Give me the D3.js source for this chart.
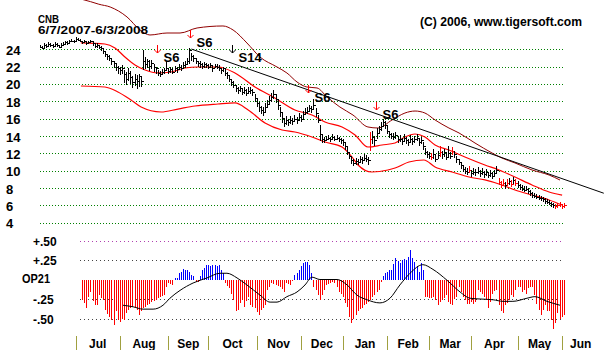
<!DOCTYPE html>
<html><head><meta charset="utf-8">
<script src="https://cdn.jsdelivr.net/npm/d3@7"></script>
<style>body{margin:0;background:#fff}svg{display:block}</style>
</head><body><svg id="c" width="604" height="350"></svg>
<script>
const closes=[24.3,24.2,24.5,24.4,24.6,24.5,24.4,24.6,24.5,24.3,24.5,24.6,24.8,24.7,24.9,25.0,24.9,25.2,25.1,25.0,
24.8,24.9,24.7,24.8,24.9,24.7,24.4,24.5,24.3,24.1,23.8,23.5,23.2,23.0,22.6,22.4,22.0,21.8,21.6,21.9,
21.2,20.6,21.3,20.8,20.2,20.6,20.4,20.9,20.3,22.6,22.3,22.7,22.1,22.4,22.0,21.8,21.3,21.1,21.4,21.6,
21.9,21.5,21.7,21.4,21.8,21.7,22.0,21.9,22.2,22.3,22.6,23.9,23.2,23.0,22.7,22.4,22.3,22.1,22.3,22.2,
22.0,22.2,21.8,22.1,22.0,21.9,21.6,21.8,21.3,21.0,20.6,20.2,19.9,19.5,19.3,19.5,19.1,19.3,19.0,19.2,
19.3,19.1,18.4,17.8,17.3,17.0,16.8,17.3,17.7,18.1,18.5,18.9,18.3,17.6,16.8,16.1,15.5,15.8,15.6,15.9,
15.7,16.0,15.8,16.2,16.0,16.5,16.8,16.9,17.2,17.1,17.6,16.6,15.9,14.2,13.6,13.5,13.7,13.8,13.6,13.9,
13.7,13.8,13.6,13.5,13.3,12.8,12.2,11.7,11.2,10.9,11.1,11.0,11.3,11.2,11.5,11.4,11.2,13.6,13.9,13.5,
14.4,14.8,15.2,15.6,15.3,14.6,14.2,14.0,13.9,14.1,13.6,13.7,13.4,13.8,13.5,13.3,13.7,13.4,13.6,13.8,
13.3,13.5,12.8,12.2,11.9,11.7,11.6,11.9,11.4,11.8,12.2,11.9,12.1,11.6,12.0,11.7,12.3,11.9,11.3,11.0,
10.6,10.2,10.0,9.9,10.1,9.7,9.9,9.8,10.0,9.7,9.9,9.6,9.8,9.5,9.7,9.4,9.7,10.1,8.7,8.4,
8.6,8.3,8.6,8.8,8.5,8.9,8.6,8.4,8.1,7.9,7.8,7.9,7.6,7.4,7.2,7.1,7.0,6.9,6.8,6.7,
6.5,6.4,6.3,6.1,6.0,5.9,6.0,6.1,5.9,6.0];
const highs=[24.5,24.4,24.7,24.6,24.8,24.7,24.6,24.8,24.7,24.5,24.7,24.8,25.0,24.9,25.1,25.2,25.1,25.4,25.3,25.2,
25.0,25.1,24.9,25.0,25.1,24.9,24.6,24.7,24.5,24.4,24.1,23.8,23.5,23.3,22.9,22.7,22.3,22.1,22.0,22.2,
21.6,21.4,21.9,21.5,20.9,21.2,21.0,21.2,20.8,23.9,23.1,22.9,22.8,22.8,22.3,22.0,21.6,21.5,21.7,21.9,
22.5,21.8,22.0,21.8,22.1,22.0,22.3,22.2,22.5,22.6,23.0,24.1,23.6,23.4,23.0,22.7,22.6,22.4,22.5,22.4,
22.3,22.4,22.1,22.3,22.3,22.2,21.9,22.0,21.7,21.4,21.0,20.6,20.3,19.9,19.7,19.8,19.5,19.6,19.4,19.6,
19.7,19.4,18.9,18.4,17.9,17.5,17.3,17.8,18.2,18.6,19.0,19.3,18.9,18.2,17.4,16.6,16.1,16.3,16.0,16.3,
16.1,16.4,16.2,16.6,16.4,16.9,17.2,17.3,17.6,17.5,18.3,17.2,16.4,15.3,14.1,13.9,14.0,14.1,13.9,14.2,
14.0,14.1,13.9,13.8,13.6,13.2,12.7,12.2,11.6,11.3,11.5,11.4,11.7,11.6,11.9,11.8,11.6,14.5,14.6,14.0,
14.9,15.2,15.6,16.0,15.7,15.1,14.6,14.4,14.3,14.5,14.0,14.1,13.8,14.2,13.9,13.7,14.1,13.8,14.0,14.2,
13.7,13.9,13.3,12.6,12.3,12.1,12.0,12.5,11.8,12.3,12.8,12.3,12.5,12.0,12.8,12.1,12.7,12.3,11.7,11.4,
11.0,10.6,10.4,10.3,10.5,10.1,10.3,10.2,10.4,10.1,10.3,10.0,10.2,9.9,10.1,9.8,10.1,10.5,9.1,8.8,
9.0,8.7,9.0,9.2,8.9,9.3,9.0,8.8,8.5,8.3,8.2,8.2,8.0,7.8,7.5,7.4,7.3,7.2,7.1,7.0,
6.8,6.7,6.6,6.4,6.3,6.2,6.3,6.4,6.2,6.3];
const lows=[24.1,24.0,24.2,24.2,24.4,24.3,24.2,24.4,24.3,24.1,24.3,24.4,24.6,24.5,24.7,24.8,24.7,25.0,24.9,24.8,
24.6,24.7,24.5,24.6,24.7,24.4,24.1,24.2,24.0,23.8,23.5,23.1,22.8,22.6,22.2,21.9,21.5,21.2,21.0,21.1,
20.1,19.9,20.4,20.0,19.5,19.8,19.4,19.7,19.6,21.6,21.7,21.9,21.5,21.7,21.4,21.2,20.9,20.8,21.0,21.2,
21.5,21.2,21.3,21.1,21.4,21.3,21.6,21.5,21.8,21.9,22.2,22.3,22.6,22.5,22.3,22.0,21.9,21.7,21.9,21.9,
21.7,21.9,21.4,21.8,21.7,21.5,21.2,21.4,20.9,20.6,20.2,19.8,19.5,19.1,18.9,19.1,18.7,18.9,18.6,18.8,
18.9,18.6,17.9,17.3,16.8,16.5,16.3,16.8,17.2,17.6,17.9,18.3,17.8,17.0,16.2,15.5,15.0,15.3,15.2,15.4,
15.3,15.6,15.4,15.8,15.6,16.0,16.4,16.5,16.8,16.7,17.0,16.2,15.5,13.4,13.2,13.2,13.4,13.5,13.3,13.6,
13.4,13.5,13.3,13.1,12.9,12.4,11.8,11.3,10.8,10.5,10.7,10.6,10.9,10.8,11.1,11.0,10.7,12.3,13.1,12.8,
13.6,14.2,14.6,15.0,14.8,14.2,13.8,13.6,13.5,13.7,13.2,13.3,13.0,13.4,13.1,12.9,13.3,13.0,13.2,13.4,
12.9,13.1,12.4,11.8,11.5,11.3,11.2,11.4,11.0,11.3,11.6,11.4,11.6,11.2,11.5,11.3,11.8,11.5,10.9,10.6,
10.2,9.8,9.6,9.5,9.7,9.3,9.5,9.4,9.6,9.3,9.5,9.2,9.4,9.1,9.3,9.0,9.3,9.7,8.3,8.0,
8.2,7.9,8.2,8.4,8.1,8.5,8.2,8.0,7.8,7.6,7.5,7.6,7.3,7.1,6.9,6.8,6.7,6.6,6.5,6.4,
6.2,6.1,6.0,5.8,5.7,5.6,5.7,5.8,5.6,5.7];
const redBars=[157,186,190,196,204,218,219,220,222,224,226,245,246,247,248,249];

// bands: [day index, value]
const outerBandIdx=[19.5,24,28,33.4,41.4,47.6,52.3,60.4,66.6,74.7,87,91.8,98.4,104.6,112.7,117.4,122.2,126.9,131.7,136.5,142.6,148.8,155.9,160.7,167.4,173.5,178.3,183,187.8,194.4,199.2,206.8,214.9,219.6,225.8,233.9,242,247.2];
const outerBandVal=[29.8,29.5,29.2,28.88,27.73,26.23,25.65,25.88,25.88,26.46,26.69,26.23,24.73,23.11,21.96,21.27,20.23,19.65,19.54,18.5,17.34,16.42,15.04,14.92,15.85,16.65,16.88,16.65,15.85,14.92,14.35,13.19,12.04,11.46,10.89,10.08,9.5,8.92];
const midBandIdx=[19.5,30.9,35.7,40.4,45.2,50,56.1,62.3,69,75.1,84.6,92.7,102.2,111.7,121.2,129.3,135.5,143.6,149.8,155.9,162.6,168.8,173.5,178.3,183,187.8,194.4,202,211.5,218.2,225.8,233.9,242,248.2];
const midBandVal=[24.73,24.61,24.15,23.11,22.19,21.61,21.27,21.38,21.84,21.96,21.96,21.27,19.65,18.38,17.0,16.42,15.61,15.04,14.12,12.73,12.96,13.19,13.88,14.23,13.88,12.96,12.39,11.58,10.66,10.08,9.27,8.35,7.54,7.19];
const lowBandIdx=[19.5,30.9,37.1,43.3,48.1,57.6,65.6,73.7,84.6,92.7,99,107,115.1,121.2,129.3,135.5,143.6,148.3,151.2,157.8,165.4,168.8,175.4,182.5,187.8,195.9,204,211.5,219.6,225.8,233.9,242,248.2];
const lowBandVal=[19.77,19.65,19.08,18.15,17.34,16.77,17.11,17.46,17.69,17.81,17.0,15.5,14.69,14.46,13.88,13.31,12.73,11.58,10.66,9.85,10.08,10.31,11.0,11.23,10.43,9.85,9.27,8.93,8.35,7.77,7.19,6.62,6.04];

// trend line endpoints [index, value]
const trendIdx=[72,268];
const trendVal=[24.03,7.4];

// signals
const sigIdx=[55.7,71.3,91.3,127.4,159.7];
const sigTip=[23.57,25.3,23.57,18.96,17.0];
const sigText=["S6","S6","S14","S6","S6"];
const sigColor=["#f00","#f00","#000","#f00","#f00"];

// OP21 oscillator, day index 20..249
const opStart=20;
const op21=[-0.26,-0.30,-0.37,-0.22,-0.16,-0.28,-0.33,-0.33,-0.20,-0.24,
-0.26,-0.39,-0.44,-0.48,-0.52,-0.58,-0.41,-0.52,-0.54,-0.50,
-0.52,-0.43,-0.39,-0.37,-0.35,-0.37,-0.39,-0.46,-0.40,-0.37,
-0.35,-0.33,-0.31,-0.29,-0.28,-0.26,-0.24,-0.22,-0.21,-0.20,
-0.09,-0.05,-0.06,-0.07,0.02,0.02,0.08,0.10,0.14,0.12,
0.12,0.10,0.06,0.04,-0.03,-0.03,0.05,0.12,0.15,0.19,
0.19,0.17,0.19,0.19,0.17,0.19,0.12,0.08,-0.05,-0.08,
-0.11,-0.18,-0.26,-0.41,-0.39,-0.30,-0.26,-0.35,-0.28,-0.22,
-0.33,-0.35,-0.37,-0.42,-0.46,-0.39,-0.36,-0.33,-0.13,-0.09,
-0.05,-0.06,-0.07,-0.08,-0.09,-0.12,-0.16,-0.05,-0.06,-0.07,
-0.02,0.06,0.08,0.12,0.17,0.21,0.22,0.22,0.19,0.08,
-0.09,-0.14,-0.20,-0.26,-0.20,-0.13,-0.07,-0.06,-0.05,-0.03,
-0.05,-0.09,-0.16,-0.19,-0.22,-0.30,-0.35,-0.48,-0.56,-0.50,
-0.46,-0.41,-0.38,-0.37,-0.33,-0.31,-0.29,-0.26,-0.23,-0.20,
-0.16,-0.13,-0.03,0.05,0.08,0.10,0.12,0.12,0.20,0.27,
0.24,0.21,0.25,0.26,0.25,0.29,0.38,0.27,0.22,0.17,
0.10,0.21,0.12,-0.22,-0.23,-0.24,-0.24,-0.22,-0.26,-0.33,
-0.29,-0.26,-0.24,-0.20,-0.29,-0.31,-0.33,-0.25,-0.22,-0.09,
-0.16,-0.22,-0.26,-0.31,-0.31,-0.29,-0.31,-0.29,-0.13,-0.16,
-0.18,-0.22,-0.26,-0.37,-0.29,-0.18,-0.15,-0.13,-0.33,-0.41,
-0.43,-0.33,-0.30,-0.26,-0.20,-0.22,-0.13,-0.10,-0.09,-0.16,
-0.13,-0.18,-0.11,-0.09,-0.10,-0.20,-0.31,-0.39,-0.46,-0.39,
-0.33,-0.41,-0.41,-0.52,-0.63,-0.56,-0.43,-0.50,-0.48,-0.45];
const opMaIdx=[39.5,44.3,49,53.8,58.5,61.8,66.6,72.8,79.4,85.6,88.9,93.7,98.4,104.6,109.4,112.7,117.4,122.2,126,129.3,133.1,141.2,146,150.7,155.5,161.6,166.4,171.1,175.9,182,186.8,193.5,199.7,204.4,209.2,215.4,220.1,224.8,231.5,235.3,241,247.2];
const opMaVal=[-0.33,-0.35,-0.38,-0.38,-0.33,-0.24,-0.14,-0.045,0.02,0.08,0.08,0.02,-0.07,-0.2,-0.29,-0.29,-0.22,-0.16,-0.07,0.03,0.0,0.0,-0.07,-0.2,-0.26,-0.3,-0.24,-0.07,0.08,0.19,0.13,-0.01,-0.16,-0.24,-0.25,-0.26,-0.28,-0.28,-0.24,-0.22,-0.28,-0.33];

const priceTicks=[24,22,20,18,16,14,12,10,8,6,4];
const opTicks=[0.5,0.25,-0.25,-0.5];
const opTickLabels=["+.50","+.25","-.25","-.50"];
const monthNames=["Jul","Aug","Sep","Oct","Nov","Dec","Jan","Feb","Mar","Apr","May","Jun"];
const monthStart=[17,38,61,80,103,124,144,165,185,205,227,248];

const svg=d3.select("#c");
svg.append("rect").attr("width",604).attr("height",350).attr("fill","#fff");
const F="'Liberation Sans',Arial,sans-serif";
const x=d3.scaleLinear().domain([0,249]).range([39.9,563.8]);
const y=d3.scaleLinear().domain([4,24]).range([222.7,49.3]);
const yo=d3.scaleLinear().domain([-0.5,0.5]).range([318.5,240.5]);

// price grid
svg.append("g").selectAll("line").data(priceTicks).join("line")
 .attr("x1",40).attr("x2",565).attr("y1",d=>Math.round(y(d))+0.5).attr("y2",d=>Math.round(y(d))+0.5)
 .attr("stroke","#008000").attr("stroke-dasharray","1,2");
svg.append("g").selectAll("text").data(priceTicks).join("text")
 .attr("x",6).attr("y",d=>y(d)+5.5).text(d=>d)
 .attr("font-family",F).attr("font-weight","bold").attr("font-size",13).attr("fill","#000");

// bands
const bandLine=d3.line().x(d=>x(d[0])).y(d=>y(d[1])).curve(d3.curveMonotoneX);
svg.append("path").attr("d",bandLine(outerBandIdx.map((v,i)=>[v,outerBandVal[i]]))).attr("fill","none").attr("stroke","#900000").attr("stroke-width",1);
svg.append("path").attr("d",bandLine(midBandIdx.map((v,i)=>[v,midBandVal[i]]))).attr("fill","none").attr("stroke","#f00").attr("stroke-width",1.2);
svg.append("path").attr("d",bandLine(lowBandIdx.map((v,i)=>[v,lowBandVal[i]]))).attr("fill","none").attr("stroke","#f00").attr("stroke-width",1.2);

// trendline
svg.append("line").attr("x1",x(trendIdx[0])).attr("y1",y(trendVal[0])).attr("x2",x(trendIdx[1])).attr("y2",y(trendVal[1]))
 .attr("stroke","#000").attr("stroke-width",1);

// price bars
const bars=svg.append("g").attr("shape-rendering","crispEdges");
closes.forEach((c,i)=>{
  const col=redBars.includes(i)?"#f00":"#000";
  const xx=Math.round(x(i))+0.5;
  bars.append("line").attr("x1",xx).attr("x2",xx).attr("y1",Math.round(y(highs[i]))).attr("y2",Math.round(y(lows[i]))).attr("stroke",col).attr("stroke-width",1);
  bars.append("line").attr("x1",xx).attr("x2",xx+2).attr("y1",Math.round(y(c))+0.5).attr("y2",Math.round(y(c))+0.5).attr("stroke",col).attr("stroke-width",1);
});

// signals
sigIdx.forEach((s,k)=>{
  const xx=Math.round(x(s))+0.5, ty=y(sigTip[k]);
  svg.append("path").attr("d",`M${xx},${ty-8}L${xx},${ty}M${xx-3},${ty-3}L${xx},${ty}L${xx+3},${ty-3}`)
   .attr("stroke",sigColor[k]).attr("fill","none").attr("stroke-width",1);
  svg.append("text").attr("x",xx+6).attr("y",ty+9).text(sigText[k])
   .attr("font-family",F).attr("font-weight","bold").attr("font-size",13).attr("fill","#000");
});

// titles
svg.append("text").attr("x",38).attr("y",23).text("CNB").attr("font-family",F).attr("font-weight","bold").attr("font-size",11).attr("textLength",21).attr("lengthAdjust","spacingAndGlyphs");
svg.append("text").attr("x",38).attr("y",33.5).text("6/7/2007-6/3/2008").attr("font-family",F).attr("font-weight","bold").attr("font-size",11).attr("textLength",110).attr("lengthAdjust","spacingAndGlyphs");
svg.append("text").attr("x",420).attr("y",26).text("(C) 2006, www.tigersoft.com").attr("font-family",F).attr("font-weight","bold").attr("font-size",12).attr("textLength",162).attr("lengthAdjust","spacingAndGlyphs");

// OP21 panel
svg.append("g").selectAll("line").data(opTicks).join("line")
 .attr("x1",80).attr("x2",564).attr("y1",d=>Math.round(yo(d))+0.5).attr("y2",d=>Math.round(yo(d))+0.5)
 .attr("stroke",(d)=>d===0.5?"#b040b0":"#444").attr("stroke-dasharray","1,3");
svg.append("g").selectAll("text").data(opTicks).join("text")
 .attr("x",33).attr("y",d=>yo(d)+5).text((d,i)=>opTickLabels[i])
 .attr("font-family",F).attr("font-weight","bold").attr("font-size",12).attr("fill","#000");
svg.append("text").attr("x",22).attr("y",283).text("OP21").attr("font-family",F).attr("font-weight","bold").attr("font-size",12).attr("textLength",28).attr("lengthAdjust","spacingAndGlyphs");

const ob=svg.append("g").attr("shape-rendering","crispEdges");
op21.forEach((v,k)=>{
  const i=k+opStart, xx=Math.round(x(i))+0.5;
  ob.append("line").attr("x1",xx).attr("x2",xx).attr("y1",Math.round(yo(0))).attr("y2",Math.round(yo(v))).attr("stroke",v>=0?"#00f":"#f00").attr("stroke-width",1);
});
const maLine=d3.line().x(d=>x(d[0])).y(d=>yo(d[1])).curve(d3.curveMonotoneX);
svg.append("path").attr("d",maLine(opMaIdx.map((v,i)=>[v,opMaVal[i]]))).attr("fill","none").attr("stroke","#000").attr("stroke-width",1);

// month axis
monthStart.forEach((m,k)=>{
  const xx=Math.round(x(m))+0.5;
  svg.append("line").attr("x1",xx).attr("x2",xx).attr("y1",336).attr("y2",350).attr("stroke","#a0a040").attr("stroke-width",1);
  const nx = k<monthStart.length-1 ? (x(m)+x(monthStart[k+1]))/2 : x(m)+19;
  svg.append("text").attr("x",nx).attr("y",348).attr("text-anchor","middle").text(monthNames[k])
   .attr("font-family",F).attr("font-weight","bold").attr("font-size",12).attr("fill","#000");
});
</script></body></html>
